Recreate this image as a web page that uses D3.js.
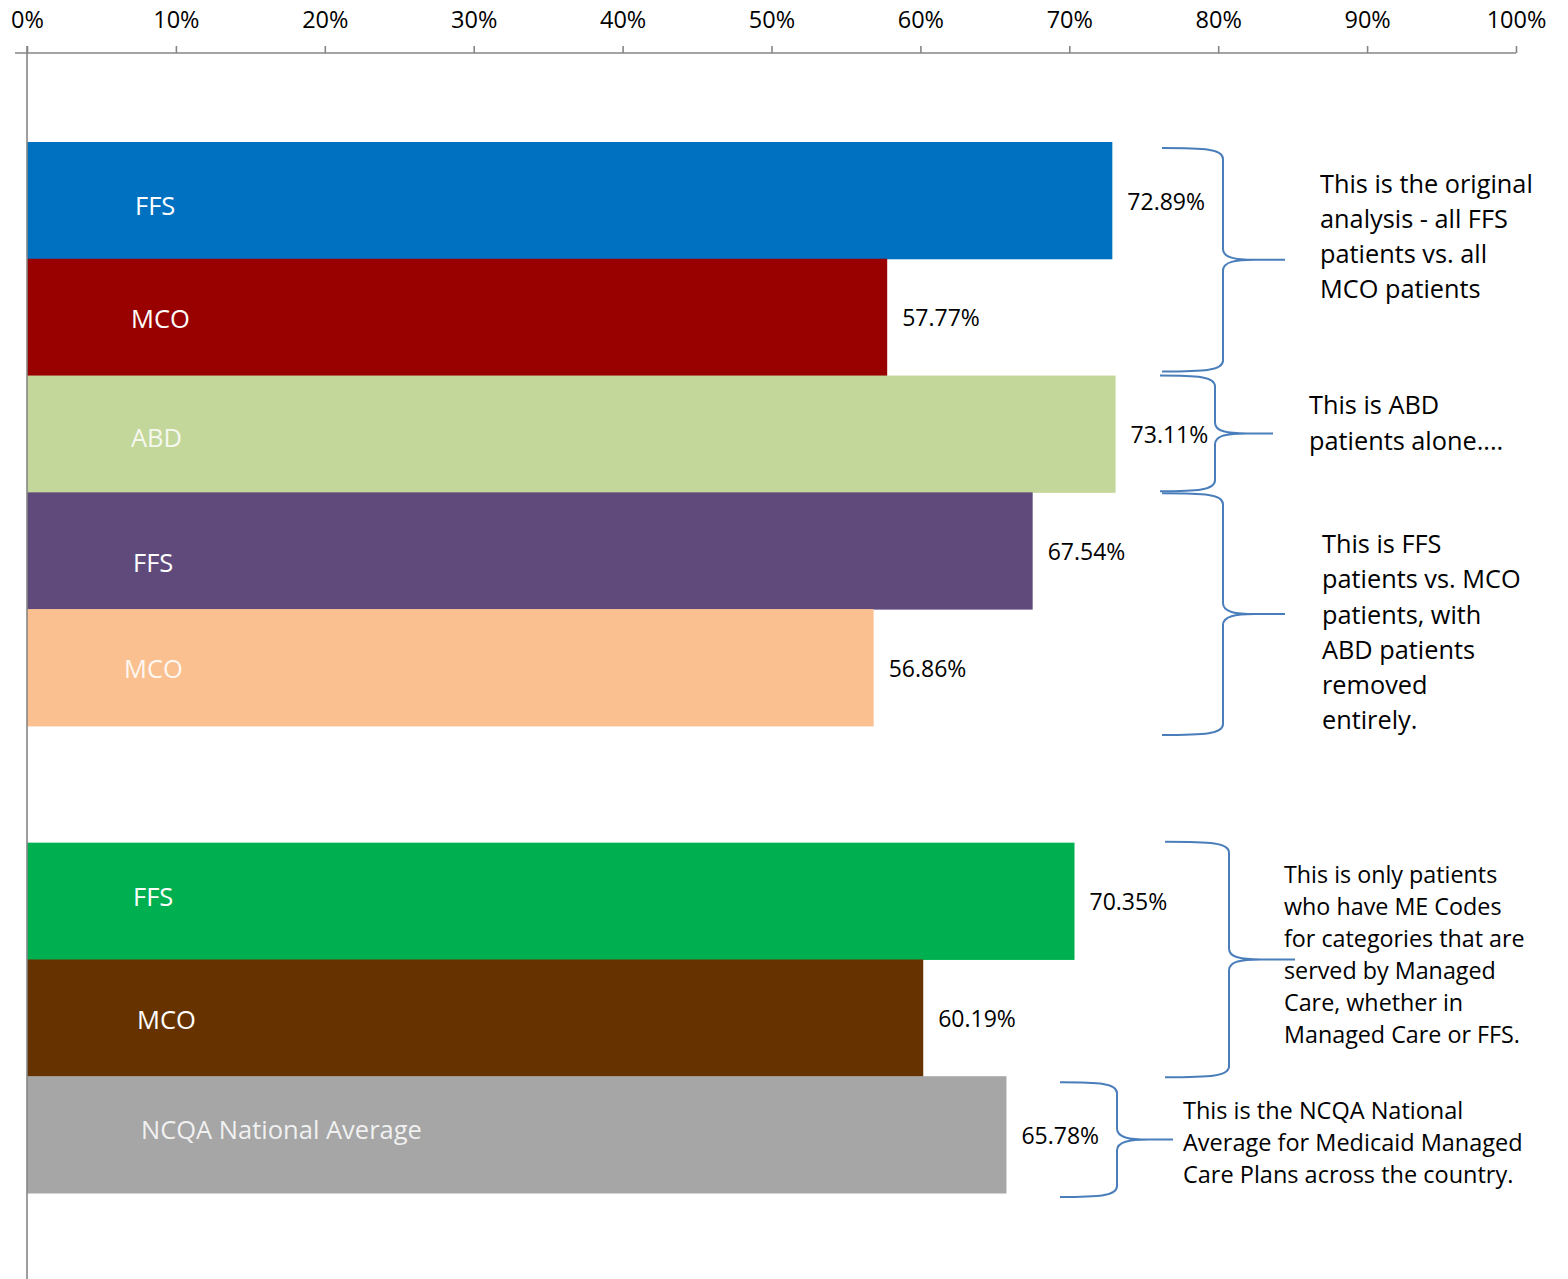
<!DOCTYPE html>
<html>
<head>
<meta charset="utf-8">
<script src="https://cdn.jsdelivr.net/npm/d3@7/dist/d3.min.js"></script>
<style>
  html, body { margin: 0; padding: 0; background: #fff; }
  svg { display: block; font-family: "Open Sans", Lato, sans-serif; }
</style>
</head>
<body>
<svg id="chart" width="1568" height="1279"></svg>
<script>
// ---- data ----
const categories = ["FFS", "MCO", "ABD", "FFS", "MCO", "FFS", "MCO", "NCQA National Average"];
const values     = [72.89, 57.77, 73.11, 67.54, 56.86, 70.35, 60.19, 65.78];
const barColors  = ["#0070C0", "#990000", "#C4D79B", "#604A7B", "#FAC090", "#00B050", "#663300", "#A6A6A6"];
// row slot of each bar (slot 5 is left empty to separate the groups)
const slots      = [0, 1, 2, 3, 4, 6, 7, 8];
const tickValues = [0, 10, 20, 30, 40, 50, 60, 70, 80, 90, 100];

// ---- layout ----
const W = 1568, H = 1279;
const axisY = 53, plotLeft = 27, plotRight = 1516;
const barTop = 142, barBottom = 1193;
const slotCount = 9;

// hand-placed in-bar label nudges [dx from left edge, dy from bar centre]
const labelNudge = [[108, 5], [104, 2], [104, 4], [106, 12], [97, 1], [106, -4], [110, 2], [114, -5]];
const labelOpacity = [1, 1, 0.85, 1, 0.9, 1, 1, 0.85];

// brace annotations: bar range covered, brace geometry and the note text
const notes = [
  { from: 0, to: 1, top: 6,  bottom: -4, x0: 1162, x1: 1223, tip: 1285,
    tx: 1320, ty: 184, lh: 35, size: 25.3,
    lines: ["This is the original", "analysis - all FFS", "patients vs. all", "MCO patients"] },
  { from: 2, to: 2, top: 0,  bottom: -1, x0: 1160, x1: 1215, tip: 1273,
    tx: 1309, ty: 405, lh: 36, size: 25.3,
    lines: ["This is ABD", "patients alone...."] },
  { from: 3, to: 4, top: 1,  bottom: 9,  x0: 1162, x1: 1223, tip: 1285,
    tx: 1322, ty: 544, lh: 35.2, size: 25.3,
    lines: ["This is FFS", "patients vs. MCO", "patients, with", "ABD patients", "removed", "entirely."] },
  { from: 5, to: 6, top: -1, bottom: 1,  x0: 1165, x1: 1229, tip: 1295,
    tx: 1284, ty: 875, lh: 32, size: 23.3,
    lines: ["This is only patients", "who have ME Codes", "for categories that are", "served by Managed", "Care, whether in", "Managed Care or FFS."] },
  { from: 7, to: 7, top: 6,  bottom: 4,  x0: 1060, x1: 1117, tip: 1173,
    tx: 1183, ty: 1111, lh: 32, size: 23.5,
    lines: ["This is the NCQA National", "Average for Medicaid Managed", "Care Plans across the country."] }
];

const svg = d3.select("#chart");

const x = d3.scaleLinear().domain([0, 100]).range([plotLeft, plotRight]);
const y = d3.scaleBand().domain(d3.range(slotCount)).range([barTop, barBottom]).paddingInner(0).paddingOuter(0);

// ---- bars ----
const bars = svg.append("g").selectAll("g.bar")
  .data(values.map((v, i) => ({ v, i, cat: categories[i], color: barColors[i], slot: slots[i] })))
  .join("g").attr("class", "bar");

bars.append("rect")
  .attr("x", x(0))
  .attr("y", d => y(d.slot))
  .attr("width", d => x(d.v) - x(0))
  .attr("height", y.bandwidth() + 0.5)
  .attr("fill", d => d.color);

// category name inside each bar
bars.append("text")
  .attr("x", d => x(0) + labelNudge[d.i][0])
  .attr("y", d => y(d.slot) + y.bandwidth() / 2 + labelNudge[d.i][1])
  .attr("dy", "0.36em")
  .attr("fill", "#fff")
  .attr("fill-opacity", d => labelOpacity[d.i])
  .attr("font-size", 25.5)
  .text(d => d.cat);

// value label after each bar
bars.append("text")
  .attr("x", d => x(d.v) + 15)
  .attr("y", d => y(d.slot) + y.bandwidth() / 2 + 1)
  .attr("dy", "0.36em")
  .attr("fill", "#000")
  .attr("font-size", 23)
  .text(d => d.v.toFixed(2) + "%");

// ---- axes ----
const xAxis = d3.axisTop(x)
  .tickValues(tickValues)
  .tickFormat(d => d + "%")
  .tickSizeInner(7)
  .tickSizeOuter(7)
  .tickPadding(18);

const gx = svg.append("g")
  .attr("transform", `translate(0,${axisY})`)
  .call(xAxis);
gx.select(".domain").remove();
gx.selectAll(".tick line").attr("stroke", "#868686").attr("stroke-width", 1.6);
gx.selectAll(".tick text")
  .attr("fill", "#000")
  .attr("font-size", 23.5)
  .attr("font-family", "'Open Sans', Lato, sans-serif");

// horizontal axis line, with a short stub left of the vertical axis
svg.append("line")
  .attr("x1", plotLeft - 12).attr("x2", x(100))
  .attr("y1", axisY).attr("y2", axisY)
  .attr("stroke", "#868686").attr("stroke-width", 1.6);

// vertical category axis
svg.append("line")
  .attr("x1", plotLeft).attr("x2", plotLeft)
  .attr("y1", axisY - 7).attr("y2", H)
  .attr("stroke", "#868686").attr("stroke-width", 1.6);

// ---- braces and notes ----
function bracePath(x0, x1, xt, y0, y1) {
  const yc = (y0 + y1) / 2;
  const r = 11;
  return [
    `M${x0},${y0}`,
    `C${x1 - 18},${y0} ${x1},${y0 + 1} ${x1},${y0 + r}`,
    `L${x1},${yc - r}`,
    `C${x1},${yc - 2} ${x1 + 12},${yc} ${x1 + 32},${yc}`,
    `L${xt},${yc}`,
    `M${x1 + 32},${yc}`,
    `C${x1 + 12},${yc} ${x1},${yc + 2} ${x1},${yc + r}`,
    `L${x1},${y1 - r}`,
    `C${x1},${y1 - 1} ${x1 - 18},${y1} ${x0},${y1}`
  ].join(" ");
}

const noteG = svg.append("g");
notes.forEach(n => {
  const y0 = y(slots[n.from]) + n.top;
  const y1 = y(slots[n.to]) + y.bandwidth() + n.bottom;
  noteG.append("path")
    .attr("d", bracePath(n.x0, n.x1, n.tip, y0, y1))
    .attr("fill", "none")
    .attr("stroke", "#4A7EBB")
    .attr("stroke-width", 2);

  const t = noteG.append("text")
    .attr("font-size", n.size)
    .attr("fill", "#000");
  n.lines.forEach((line, k) => {
    t.append("tspan")
      .attr("x", n.tx)
      .attr("y", n.ty + k * n.lh)
      .attr("dy", "0.36em")
      .text(line);
  });
});
</script>
</body>
</html>
